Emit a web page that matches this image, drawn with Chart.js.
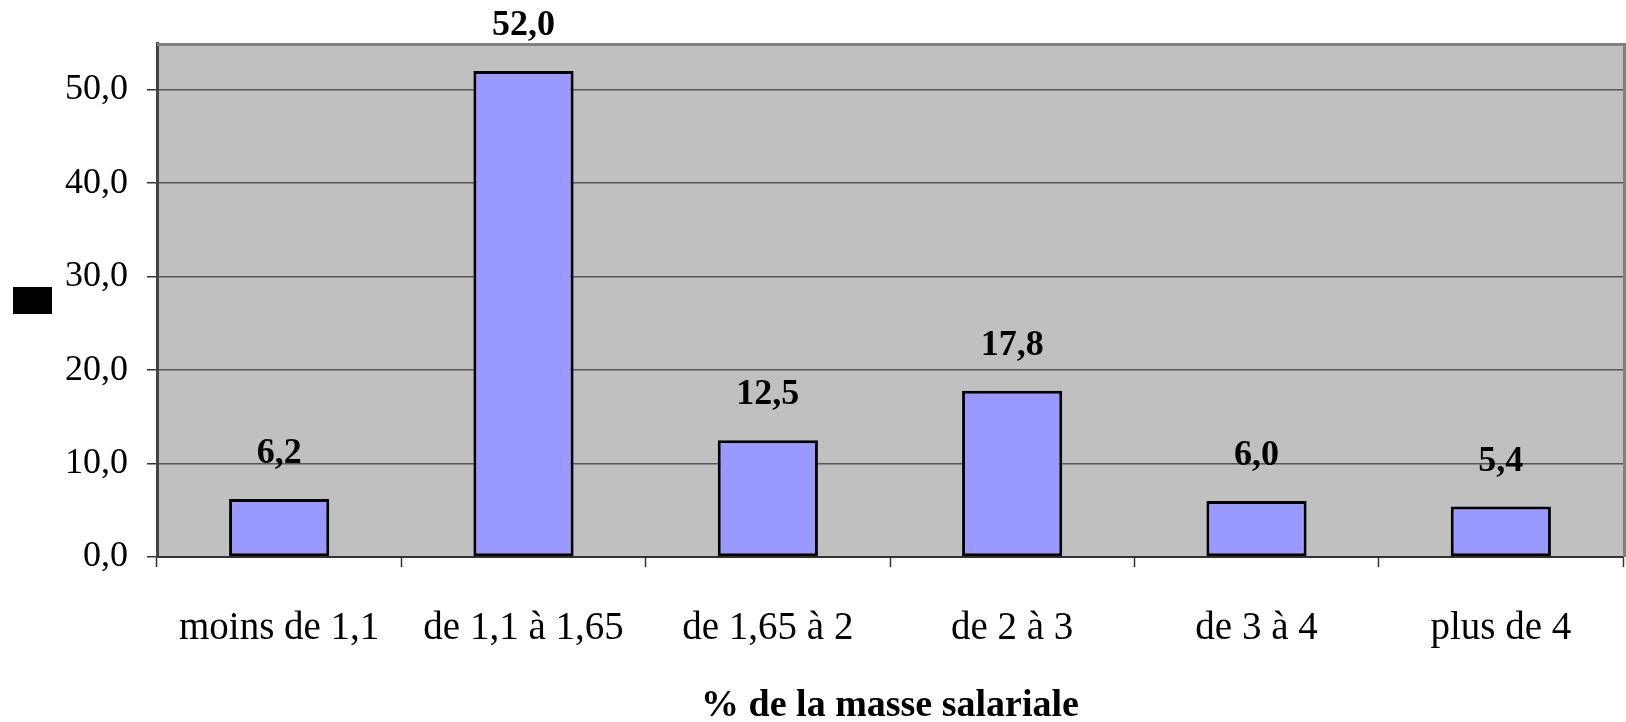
<!DOCTYPE html>
<html>
<head>
<meta charset="utf-8">
<script src="https://cdn.jsdelivr.net/npm/chart.js@4/dist/chart.umd.min.js"></script>
<style>
  html, body { margin: 0; padding: 0; background: #fff; }
  #wrap { width: 1626px; height: 722px; position: relative; }
</style>
</head>
<body>
<div id="wrap"><canvas id="masse"></canvas></div>
<script>
// categories and values
const categories = ['moins de 1,1', 'de 1,1 à 1,65', 'de 1,65 à 2', 'de 2 à 3', 'de 3 à 4', 'plus de 4']
const values = [6.2, 52.0, 12.5, 17.8, 6.0, 5.4]
const yTicks = [0, 10, 20, 30, 40, 50]
const xTitle = '% de la masse salariale'

const fmt = v => v.toFixed(1).replace('.', ',')

// grey plot background, frame and the small black box left of the axis
const frame = {
  id: 'frame',
  beforeDraw(chart) {
    const { ctx, chartArea: a } = chart
    ctx.save()
    ctx.fillStyle = '#c0c0c0'
    ctx.fillRect(a.left, a.top, a.right - a.left, a.bottom - a.top)
    ctx.restore()
  },
  afterDraw(chart) {
    const { ctx, chartArea: a } = chart
    ctx.save()
    ctx.strokeStyle = '#808080'
    ctx.lineWidth = 3
    ctx.beginPath()
    ctx.moveTo(a.left, a.top + 1.5)
    ctx.lineTo(a.right + 1.5, a.top + 1.5)
    ctx.lineTo(a.right + 1.5, a.bottom)
    ctx.stroke()
    // empty y axis title shows as a black block
    ctx.fillStyle = '#000'
    ctx.fillRect(13, (a.top + a.bottom) / 2 - 13, 39, 27)
    ctx.restore()
  }
}

// value labels above bars
const valueLabels = {
  id: 'valueLabels',
  afterDatasetsDraw(chart) {
    const { ctx } = chart
    const meta = chart.getDatasetMeta(0)
    ctx.save()
    ctx.font = 'bold 36px "Liberation Serif"'
    ctx.fillStyle = '#000'
    ctx.textAlign = 'center'
    ctx.textBaseline = 'middle'
    meta.data.forEach((bar, i) => {
      ctx.fillText(fmt(values[i]), bar.x, bar.y - 45)
    })
    ctx.restore()
  }
}

const ctx = document.getElementById('masse').getContext('2d')

new Chart(ctx, {
  type: 'bar',
  data: {
    labels: categories,
    datasets: [{
      data: values,
      backgroundColor: '#9999ff',
      borderColor: '#000',
      borderWidth: 3,
      borderSkipped: false,
      categoryPercentage: 1,
      barPercentage: 0.41
    }]
  },
  options: {
    responsive: true,
    maintainAspectRatio: false,
    animation: false,
    layout: { padding: { top: 43, right: 3, left: 0, bottom: 0 } },
    plugins: {
      legend: { display: false },
      tooltip: { enabled: false }
    },
    scales: {
      x: {
        grid: {
          offset: true,
          drawOnChartArea: false,
          drawTicks: true,
          tickLength: 10,
          tickColor: '#333',
          tickWidth: 1.5
        },
        border: { color: '#333', width: 2 },
        ticks: {
          color: '#000',
          font: { family: 'Liberation Serif', size: 39 },
          padding: 38,
          maxRotation: 0
        },
        title: {
          display: true,
          text: xTitle,
          color: '#000',
          font: { family: 'Liberation Serif', size: 38, weight: 'bold', lineHeight: 0.85 },
          padding: { top: 0, bottom: 0 }
        },
        afterFit(scale) { scale.height = 165 }
      },
      y: {
        min: 0,
        max: 55,
        afterBuildTicks(scale) { scale.ticks = yTicks.map(v => ({ value: v })) },
        grid: {
          color: '#555',
          lineWidth: 1.5,
          tickLength: 10,
          tickColor: '#333',
          tickWidth: 1.5
        },
        border: { color: '#444', width: 3 },
        ticks: {
          color: '#000',
          font: { family: 'Liberation Serif', size: 36 },
          padding: 19,
          callback: v => fmt(v)
        },
        afterFit(scale) { scale.width = 157 }
      }
    }
  },
  plugins: [frame, valueLabels]
})
</script>
</body>
</html>
